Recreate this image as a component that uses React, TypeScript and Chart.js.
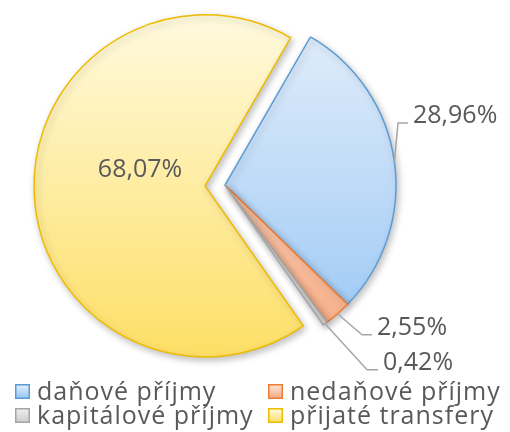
import React, { useEffect, useRef } from 'react';
import { Chart, registerables } from 'chart.js';

Chart.register(...registerables);

// ---- data ----
const categories = ['daňové příjmy', 'nedaňové příjmy', 'kapitálové příjmy', 'přijaté transfery'];
const shares = [28.96, 2.55, 0.42, 68.07];
const explode = [0, 0, 0, 20];
const borderColors = ['#5b9bd5', '#ed7d31', '#a5a5a5', '#eebb00'];
const topColors = ['#e4effb', '#fde3d4', '#eeeeee', '#fffadf'];
const bottomColors = ['#98c6f4', '#f6ab84', '#cccccc', '#fddf66'];

const FONT = '"Open Sans", "Noto Sans", sans-serif';
const TEXT_COLOR = '#595959';
const LINE_COLOR = '#a6a6a6';

const fmt = (v: number) => v.toFixed(2).replace('.', ',') + '%';

function gradientFor(chart: any, i: number) {
  const area = chart.chartArea;
  if (!area) return bottomColors[i];
  const g = chart.ctx.createLinearGradient(0, area.top + 10, 0, area.bottom - 10);
  g.addColorStop(0, topColors[i]);
  g.addColorStop(1, bottomColors[i]);
  return g;
}

// label layout: leader elbow offset from arc edge anchor; inside = label in slice
const labelLayout: any[] = [
  { dx: 3.6, dy: -38.5, h: 10 },
  { dx: 24.5, dy: 21, h: 10 },
  { dx: 42, dy: 46, h: 11 },
  { inside: true, dx: -65, dy: -16 },
];

// moves exploded slices outward along their mid angle (sharp-tipped explode)
const explodePlugin = {
  id: 'explode',
  beforeDatasetsDraw(chart: any) {
    const area = chart.chartArea;
    const cx = (area.left + area.right) / 2;
    const cy = (area.top + area.bottom) / 2;
    chart.getDatasetMeta(0).data.forEach((arc: any, i: number) => {
      const mid = (arc.startAngle + arc.endAngle) / 2;
      arc.x = cx + Math.cos(mid) * explode[i];
      arc.y = cy + Math.sin(mid) * explode[i];
    });
  },
};

const shadowPlugin = {
  id: 'shadow',
  beforeDatasetsDraw(chart: any) {
    const ctx = chart.ctx;
    ctx.save();
    ctx.shadowColor = 'rgba(0,0,0,0.25)';
    ctx.shadowBlur = 7;
    ctx.shadowOffsetX = 2;
    ctx.shadowOffsetY = 3;
  },
  afterDatasetsDraw(chart: any) {
    chart.ctx.restore();
  },
};

const labelPlugin = {
  id: 'pieLabels',
  afterDraw(chart: any) {
    const ctx = chart.ctx;
    const meta = chart.getDatasetMeta(0);
    ctx.save();
    ctx.font = `25px ${FONT}`;
    ctx.fillStyle = TEXT_COLOR;
    meta.data.forEach((arc: any, i: number) => {
      const p = arc.getProps(['x', 'y', 'startAngle', 'endAngle', 'outerRadius'], true);
      const lay = labelLayout[i];
      const text = fmt(shares[i]);
      if (lay.inside) {
        ctx.textAlign = 'center';
        ctx.textBaseline = 'middle';
        ctx.fillText(text, p.x + lay.dx, p.y + lay.dy);
        return;
      }
      const mid = (p.startAngle + p.endAngle) / 2;
      const ax = p.x + Math.cos(mid) * p.outerRadius;
      const ay = p.y + Math.sin(mid) * p.outerRadius;
      const ex = ax + lay.dx;
      const ey = ay + lay.dy;
      ctx.beginPath();
      ctx.strokeStyle = LINE_COLOR;
      ctx.lineWidth = 1.5;
      ctx.moveTo(ax, ay);
      ctx.lineTo(ex, ey);
      ctx.lineTo(ex + lay.h, ey);
      ctx.stroke();
      ctx.textAlign = 'left';
      ctx.textBaseline = 'alphabetic';
      ctx.fillText(text, ex + lay.h + 5, ey);
    });
    ctx.restore();
  },
};

const legendPlugin = {
  id: 'gridLegend',
  afterDraw(chart: any) {
    const ctx = chart.ctx;
    const colX = [15, 268];
    const rowY = [400, 424];
    ctx.save();
    ctx.font = `25px ${FONT}`;
    (ctx as any).letterSpacing = '1px';
    ctx.textAlign = 'left';
    ctx.textBaseline = 'alphabetic';
    categories.forEach((name, i) => {
      const x = colX[i % 2];
      const y = rowY[Math.floor(i / 2)];
      const bx = x + 0.75;
      const by = y - 15.25;
      const g = ctx.createLinearGradient(0, by, 0, by + 13.5);
      g.addColorStop(0, topColors[i]);
      g.addColorStop(1, bottomColors[i]);
      ctx.fillStyle = g;
      ctx.fillRect(bx, by, 13.5, 13.5);
      ctx.strokeStyle = borderColors[i];
      ctx.lineWidth = 1.5;
      ctx.strokeRect(bx, by, 13.5, 13.5);
      ctx.fillStyle = TEXT_COLOR;
      ctx.fillText(name, x + 22, y);
    });
    ctx.restore();
  },
};

export default function App() {
  const ref = useRef<HTMLCanvasElement | null>(null);
  useEffect(() => {
    if (!ref.current) return;
    const chart = new Chart(ref.current, {
      type: 'pie',
      data: {
        labels: categories,
        datasets: [
          {
            data: shares,
            hoverOffset: 0,
            borderWidth: 1.5,
            hoverBorderWidth: 1.5,
            borderJoinStyle: 'miter',
            borderColor: borderColors,
            backgroundColor: (c: any) => gradientFor(c.chart, c.dataIndex),
          } as any,
        ],
      },
      options: {
        animation: false,
        responsive: false,
        events: [],
        rotation: 30,
        radius: 171,
        layout: { padding: { left: 43.25, right: 103.25, top: 3.25, bottom: 65.25 } },
        plugins: {
          legend: { display: false },
          tooltip: { enabled: false },
        },
      } as any,
      plugins: [explodePlugin, shadowPlugin, labelPlugin, legendPlugin],
    });
    return () => chart.destroy();
  }, []);
  return (
    <div style={{ position: 'fixed', left: 0, top: 0, width: 510, height: 432, background: '#fff' }}>
      <canvas ref={ref} width={510} height={432} />
    </div>
  );
}
